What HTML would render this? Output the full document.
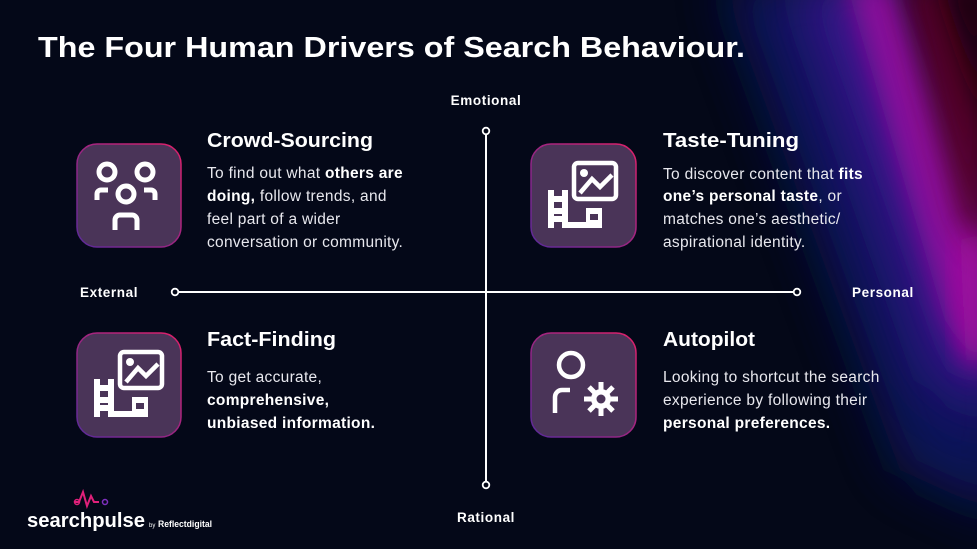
<!DOCTYPE html>
<html><head><meta charset="utf-8"><style>
html,body{margin:0;padding:0;background:#040818;}
svg{display:block}
text{font-family:"Liberation Sans",sans-serif;fill:#fff}
.b{font-size:15.5px;fill:#e8e8ee;letter-spacing:0.3px}
.bb{font-weight:bold;fill:#fff}
.h{font-size:20px;font-weight:bold}
.l{font-size:13.5px;font-weight:bold;letter-spacing:0.6px}
</style></head><body>
<svg width="977" height="549" viewBox="0 0 977 549" xmlns="http://www.w3.org/2000/svg">
<defs>
<filter id="bl" x="-50%" y="-50%" width="200%" height="200%"><feGaussianBlur stdDeviation="25"/></filter>
<filter id="bl2" x="-50%" y="-50%" width="200%" height="200%"><feGaussianBlur stdDeviation="14"/></filter>
<linearGradient id="bd" x1="1" y1="0" x2="0" y2="1"><stop offset="0" stop-color="#e0206a"/><stop offset="1" stop-color="#5a2a9a"/></linearGradient>
</defs>
<rect width="977" height="549" fill="#040818"/>
<g>
<polygon points="720,-20 880,-20 1010,330 1010,520 900,470" fill="#0c1460" opacity="0.9" filter="url(#bl)"/>
<polygon points="790,-20 890,-20 1000,280 1000,420 930,380" fill="#3a1890" opacity="0.85" filter="url(#bl)"/>
<polygon points="845,-20 895,-20 985,230 985,380 945,320" fill="#9a10a0" opacity="0.85" filter="url(#bl2)"/>
<polygon points="900,-20 990,-20 990,260 960,220" fill="#5a0028" opacity="0.9" filter="url(#bl2)"/>
<polygon points="940,-20 990,-20 990,130" fill="#180008" filter="url(#bl2)"/>
<polygon points="960,240 990,230 990,360 965,360" fill="#b010a0" opacity="0.8" filter="url(#bl2)"/>
</g>
<text x="38" y="57" font-size="29" font-weight="bold" textLength="707" lengthAdjust="spacingAndGlyphs">The Four Human Drivers of Search Behaviour.</text>

<line x1="178" y1="292" x2="794" y2="292" stroke="#fff" stroke-width="2"/>
<line x1="486" y1="134" x2="486" y2="482" stroke="#fff" stroke-width="2"/>
<circle cx="175" cy="292" r="3.3" fill="#040818" stroke="#fff" stroke-width="1.8"/>
<circle cx="797" cy="292" r="3.3" fill="#040818" stroke="#fff" stroke-width="1.8"/>
<circle cx="486" cy="131" r="3.3" fill="#040818" stroke="#fff" stroke-width="1.8"/>
<circle cx="486" cy="485" r="3.3" fill="#040818" stroke="#fff" stroke-width="1.8"/>
<text class="l" x="486" y="105" text-anchor="middle">Emotional</text>
<text class="l" x="486" y="522" text-anchor="middle">Rational</text>
<text class="l" x="80" y="297">External</text>
<text class="l" x="852" y="297">Personal</text>

<g stroke="url(#bd)" stroke-width="1.5" fill="#4a3458">
<rect x="77" y="144" width="104" height="103" rx="20"/>
<rect x="531" y="144" width="105" height="103" rx="20"/>
<rect x="77" y="333" width="104" height="104" rx="20"/>
<rect x="531" y="333" width="105" height="104" rx="20"/>
</g>
<g fill="none" stroke="#fff" stroke-width="5">
<circle cx="107" cy="172" r="8"/><circle cx="145" cy="172" r="8"/><circle cx="126" cy="194" r="8"/>
<path d="M97 200 v-6 a4 4 0 0 1 4 -4 h7"/><path d="M155 200 v-6 a4 4 0 0 0 -4 -4 h-7"/>
<path d="M115 230 v-10 a5 5 0 0 1 5 -5 h12 a5 5 0 0 1 5 5 v10"/>
</g>
<g id="imf">
<rect x="574" y="163" width="42" height="36" rx="4" fill="none" stroke="#fff" stroke-width="4.5"/>
<circle cx="584" cy="173" r="4" fill="#fff"/>
<path d="M580 193 l12 -14 l8 8 l12 -12" fill="none" stroke="#fff" stroke-width="4.5"/>
<path d="M548 190 h6 v6 h8 v-6 h6 v38 h-6 v-6 h-8 v6 h-6z M554 202 v6 h8 v-6z M562 214 h-8 v2 h8z" fill="#fff" fill-rule="evenodd"/>
<path d="M568 222 h18 v-14 h16 v20 h-34z M590 214 v6 h8 v-6z" fill="#fff" fill-rule="evenodd"/>
</g>
<use href="#imf" transform="translate(-454,189)"/>
<g fill="none" stroke="#fff" stroke-width="4.5">
<circle cx="571" cy="365" r="12"/>
<path d="M555 413 v-16 a7 7 0 0 1 7 -7 h8"/>
</g>
<g stroke="#fff" stroke-width="5">
<line x1="601" y1="382" x2="601" y2="416"/><line x1="584" y1="399" x2="618" y2="399"/>
<line x1="589" y1="387" x2="613" y2="411"/><line x1="613" y1="387" x2="589" y2="411"/>
</g>
<circle cx="601" cy="399" r="10" fill="#fff"/>
<circle cx="601" cy="399" r="4.5" fill="#4a3458"/>

<text class="h" x="207" y="147" textLength="166" lengthAdjust="spacingAndGlyphs">Crowd-Sourcing</text>
<text class="b" x="207" y="178">To find out what <tspan class="bb">others are</tspan></text>
<text class="b" x="207" y="201"><tspan class="bb">doing,</tspan> follow trends, and</text>
<text class="b" x="207" y="224">feel part of a wider</text>
<text class="b" x="207" y="247">conversation or community.</text>

<text class="h" x="663" y="147" textLength="136" lengthAdjust="spacingAndGlyphs">Taste-Tuning</text>
<text class="b" x="663" y="179">To discover content that <tspan class="bb">fits</tspan></text>
<text class="b" x="663" y="201"><tspan class="bb">one’s personal taste</tspan>, or</text>
<text class="b" x="663" y="224">matches one’s aesthetic/</text>
<text class="b" x="663" y="247">aspirational identity.</text>

<text class="h" x="207" y="346" textLength="129" lengthAdjust="spacingAndGlyphs">Fact-Finding</text>
<text class="b" x="207" y="382">To get accurate,</text>
<text class="b bb" x="207" y="405">comprehensive,</text>
<text class="b bb" x="207" y="428">unbiased information.</text>

<text class="h" x="663" y="346" textLength="92" lengthAdjust="spacingAndGlyphs">Autopilot</text>
<text class="b" x="663" y="382">Looking to shortcut the search</text>
<text class="b" x="663" y="405">experience by following their</text>
<text class="b bb" x="663" y="428">personal preferences.</text>

<path d="M74 502 l5 0 l4 -10 l4 14 l4 -10 l3 6 l5 0" fill="none" stroke="#e0207a" stroke-width="2"/>
<circle cx="77" cy="502" r="2.5" fill="none" stroke="#e0207a" stroke-width="1.5"/>
<circle cx="105" cy="502" r="2.5" fill="none" stroke="#8030c0" stroke-width="1.5"/>
<text x="27" y="527" font-size="20" font-weight="bold" textLength="118" lengthAdjust="spacingAndGlyphs">searchpulse</text>
<text x="149" y="527" font-size="6" fill="#ccc">by</text>
<text x="158" y="527" font-size="9" font-weight="bold" textLength="54" lengthAdjust="spacingAndGlyphs">Reflectdigital</text>
</svg>
</body></html>
